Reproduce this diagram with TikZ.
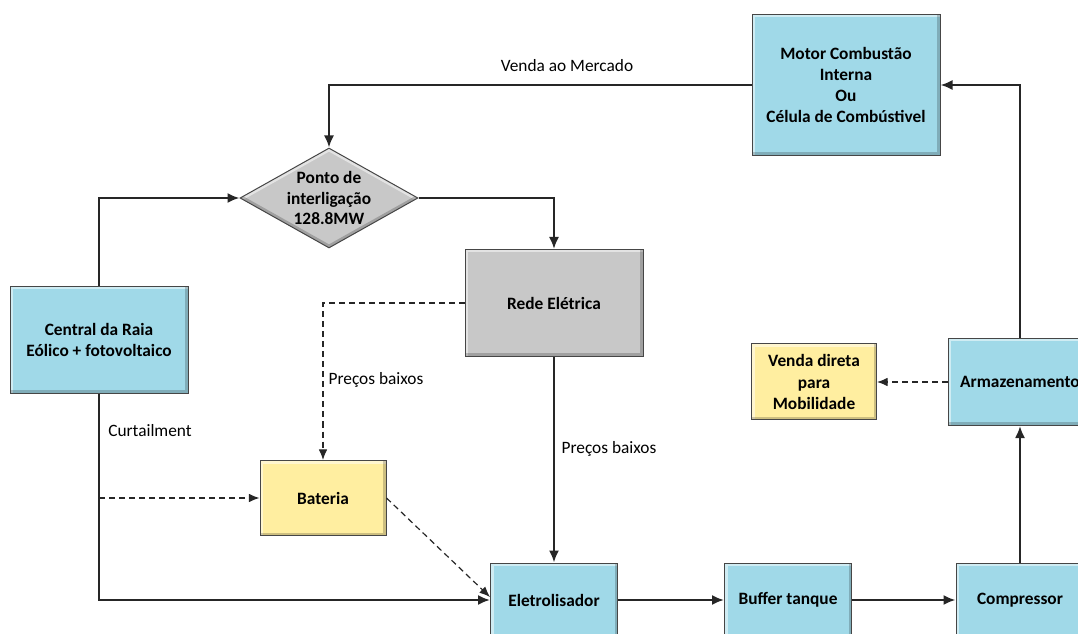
\documentclass[tikz,border=0pt]{standalone}
\usepackage{fontspec}
\setmainfont{Carlito}
\usetikzlibrary{shapes.geometric,arrows.meta,positioning,calc}
\newlength\px \setlength\px{0.75pt}
\definecolor{boxblue}{RGB}{160,217,232}
\definecolor{boxgray}{RGB}{200,200,200}
\definecolor{boxyel}{RGB}{255,238,160}

\begin{document}
\begin{tikzpicture}[x=1\px,y=-1\px,
 every node/.style={font=\fontsize{13}{15.8}\selectfont},
 blk/.style={draw=gray!55!black,line width=1\px,align=center,inner sep=0pt,font=\fontsize{13}{15.8}\selectfont\bfseries,
  path picture={\draw[white,opacity=.5,line width=6\px] (path picture bounding box.south west)--(path picture bounding box.north west)--(path picture bounding box.north east);
   \draw[black,opacity=.2,line width=6\px] (path picture bounding box.north east)--(path picture bounding box.south east)--(path picture bounding box.south west);}},
 blue/.style={blk,fill=boxblue},
 grey/.style={blk,fill=boxgray},
 yel/.style={blk,fill=boxyel},
 junction/.style={diamond,draw=gray!55!black,line width=1\px,fill=boxgray,inner sep=0pt,minimum width=178\px,minimum height=100\px,
  path picture={\draw[white,opacity=.5,line width=6\px] (path picture bounding box.west)--(path picture bounding box.north)--(path picture bounding box.east);
   \draw[black,opacity=.2,line width=6\px] (path picture bounding box.east)--(path picture bounding box.south)--(path picture bounding box.west);}},
 flow/.style={draw=black!85,line width=1.5pt,-{Latex[length=9pt,width=7.5pt]}},
 dflow/.style={draw=black!85,line width=0.9pt,dash pattern=on 4.5pt off 3pt,-{Latex[length=8pt,width=6.5pt]}}]
\useasboundingbox (0,0) rectangle (1078,634);
\clip (0,0) rectangle (1078,634);

% blocks
\node[blue,minimum width=188\px,minimum height=141\px](motor) at (846,85){Motor Combustão\\Interna\\Ou\\Célula de Combústivel};
\node[junction](pi) at (329,198){};
\node[font=\fontsize{13}{15.2}\selectfont\bfseries,align=center](pitxt) at (pi){Ponto de\\interligação\\128.8MW};
\node[grey,minimum width=178\px,minimum height=107\px](rede) at (554,303){Rede Elétrica};
\node[blue,minimum width=178\px,minimum height=107\px](central) at (99,340){Central da Raia\\Eólico + fotovoltaico};
\node[yel,minimum width=126\px,minimum height=75\px](bat) at (323,498){Bateria};
\node[blue,minimum width=127\px,minimum height=74\px](elet) at (554,600){Eletrolisador};
\node[blue,minimum width=127\px,minimum height=74\px](buf) at (788,600){Buffer tanque};
\node[blue,minimum width=128\px,minimum height=74\px](comp) at (1020,600){Compressor};
\node[blue,minimum width=144\px,minimum height=87\px](arm) at (1020,382){Armazenamento};
\node[yel,minimum width=125\px,minimum height=76\px](venda) at (814,382){Venda direta\\para\\Mobilidade};

% connectors
\draw[flow](motor.west) -| (pi.north);
\draw[flow](central.north) |- (pi.west);
\draw[flow](pi.east) -| (rede.north);
\draw[dflow](rede.west) -| (bat.north);
\draw[flow](rede.south) -- (elet.north);
\draw[flow](central.south) |- (elet.west);
\coordinate (cur) at (central.south |- bat.west);
\draw[dflow](cur) -- (bat.west);
\draw[dflow](bat.east) -- ([yshift=3\px]elet.west);
\draw[flow](elet) -- (buf);\draw[flow](buf) -- (comp);
\draw[flow](comp.north) -- (arm.south);
\draw[flow](arm.north) |- (motor.east);
\draw[dflow](arm.west) -- (venda.east);

% labels
\node(lmerc) at (567,66){Venda ao Mercado};
\node(lpb1) at (376,380){Preços baixos};
\node(lpb2) at (609,449){Preços baixos};
\node(lcurt) at (150,431){Curtailment};
\end{tikzpicture}
\end{document}
